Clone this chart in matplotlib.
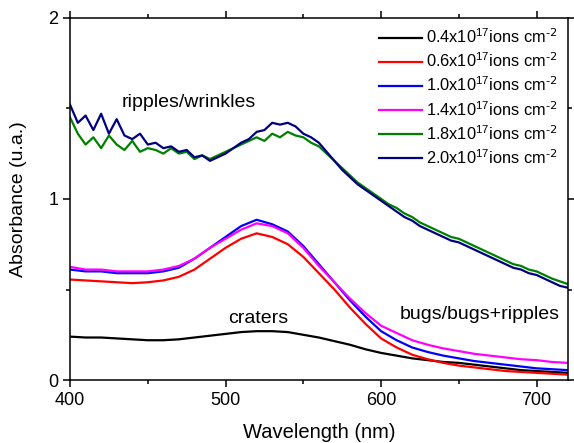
import matplotlib
matplotlib.use("Agg")
import matplotlib.pyplot as plt
from matplotlib.ticker import MultipleLocator

plt.rcParams['font.family'] = ['Liberation Sans', 'DejaVu Sans']
plt.rcParams['mathtext.default'] = 'regular'

# smooth-ish spectra, read every 10 nm
wl10 = list(range(400, 721, 10))
black = [0.24, 0.235, 0.235, 0.23, 0.225, 0.22, 0.22, 0.225, 0.235, 0.245, 0.255,
         0.265, 0.27, 0.27, 0.265, 0.25, 0.235, 0.215, 0.195, 0.17, 0.15, 0.135,
         0.12, 0.11, 0.10, 0.095, 0.085, 0.075, 0.065, 0.055, 0.05, 0.045, 0.04]
red = [0.555, 0.55, 0.545, 0.54, 0.535, 0.54, 0.55, 0.57, 0.61, 0.67, 0.73,
       0.78, 0.81, 0.79, 0.75, 0.68, 0.59, 0.50, 0.40, 0.31, 0.23, 0.18,
       0.14, 0.115, 0.095, 0.08, 0.07, 0.06, 0.05, 0.045, 0.04, 0.035, 0.03]
blue = [0.61, 0.60, 0.60, 0.59, 0.59, 0.59, 0.60, 0.62, 0.67, 0.73, 0.79,
        0.85, 0.885, 0.86, 0.82, 0.74, 0.64, 0.54, 0.44, 0.35, 0.27, 0.22,
        0.18, 0.155, 0.135, 0.12, 0.105, 0.095, 0.085, 0.075, 0.065, 0.06, 0.055]
magenta = [0.625, 0.61, 0.61, 0.60, 0.60, 0.60, 0.61, 0.63, 0.67, 0.73, 0.78,
           0.83, 0.865, 0.85, 0.81, 0.73, 0.63, 0.54, 0.45, 0.37, 0.30, 0.26,
           0.22, 0.195, 0.175, 0.16, 0.145, 0.135, 0.125, 0.115, 0.11, 0.10, 0.095]

# noisy spectra, read every 5 nm
wl5 = list(range(400, 721, 5))
green = [1.45, 1.36, 1.30, 1.34, 1.28, 1.35, 1.30, 1.27, 1.32, 1.26, 1.28, 1.27,
         1.25, 1.28, 1.25, 1.26, 1.22, 1.24, 1.22, 1.24, 1.26, 1.28, 1.30, 1.32,
         1.34, 1.32, 1.36, 1.34, 1.37, 1.35, 1.34, 1.31, 1.29, 1.25, 1.21, 1.17,
         1.13, 1.09, 1.06, 1.03, 1.00, 0.97, 0.95, 0.92, 0.90, 0.87, 0.85, 0.83,
         0.81, 0.79, 0.78, 0.76, 0.74, 0.72, 0.70, 0.68, 0.66, 0.64, 0.63, 0.61,
         0.60, 0.58, 0.56, 0.545, 0.53]
navy = [1.52, 1.42, 1.46, 1.38, 1.47, 1.36, 1.44, 1.35, 1.33, 1.36, 1.30, 1.31,
        1.28, 1.29, 1.26, 1.27, 1.23, 1.24, 1.21, 1.23, 1.25, 1.28, 1.31, 1.33,
        1.37, 1.38, 1.42, 1.41, 1.42, 1.40, 1.36, 1.34, 1.31, 1.26, 1.21, 1.16,
        1.12, 1.08, 1.05, 1.02, 0.99, 0.96, 0.93, 0.90, 0.88, 0.85, 0.83, 0.81,
        0.79, 0.77, 0.76, 0.74, 0.72, 0.70, 0.68, 0.66, 0.64, 0.62, 0.61, 0.59,
        0.58, 0.56, 0.54, 0.52, 0.51]

doses = ['0.4', '0.6', '1.0', '1.4', '1.8', '2.0']

fig = plt.figure(figsize=(5.74, 4.43), dpi=100)
ax = fig.add_axes([0.122, 0.142, 0.867, 0.818])

series = [(wl10, black, 'black'), (wl10, red, '#ff0000'), (wl10, blue, '#0000ff'),
          (wl10, magenta, '#ff00ff'), (wl5, green, '#008000'), (wl5, navy, '#000080')]
for (x, y, c), d in zip(series, doses):
    ax.plot(x, y, color=c, lw=1.6, label=d + r'x10$^{17}$ions cm$^{\text{-2}}$')

ax.set_xlim(400, 720)
ax.set_ylim(0, 2)
ax.xaxis.set_major_locator(MultipleLocator(100))
ax.xaxis.set_minor_locator(MultipleLocator(50))
ax.yaxis.set_major_locator(MultipleLocator(1))
ax.yaxis.set_minor_locator(MultipleLocator(0.5))
ax.tick_params(which='both', direction='out', top=True, right=True,
               labeltop=False, labelright=False, labelsize=13, width=1.1)
ax.tick_params(which='major', length=5)
ax.tick_params(which='minor', length=3)
for s in ax.spines.values():
    s.set_linewidth(1.1)

ax.set_xlabel('Wavelength (nm)', fontsize=14.5, labelpad=10)
ax.set_ylabel('Absorbance (u.a.)', fontsize=14, labelpad=15)

ax.text(433, 1.53, 'ripples/wrinkles', fontsize=14, va='center')
ax.text(521, 0.34, 'craters', fontsize=14, va='center', ha='center')
ax.text(612, 0.36, 'bugs/bugs+ripples', fontsize=14, va='center')

ax.legend(loc='upper right', bbox_to_anchor=(1.0, 1.0), frameon=False,
          fontsize=11.8, handlelength=2.6, handletextpad=0.3, labelspacing=0.33,
          borderaxespad=0.2)

fig.savefig('out.png', dpi=100)
